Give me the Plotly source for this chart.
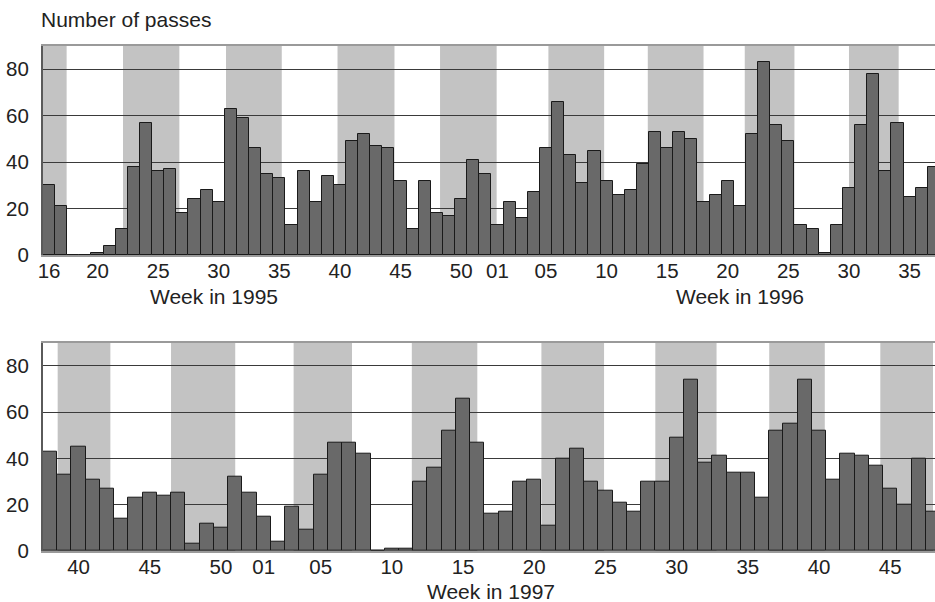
import plotly.graph_objects as go

# ---------------- data ----------------
# Top panel: 1995 week 16 .. 1996 week 37
top_weeks_1995 = list(range(16, 53))
top_values_1995 = [30, 21, 0, 0, 1, 4, 11, 38, 57, 36, 37, 18, 24, 28, 23, 63, 59, 46, 35, 33,
                   13, 36, 23, 34, 30, 49, 52, 47, 46, 32, 11, 32, 18, 17, 24, 41, 35]
top_weeks_1996 = list(range(1, 38))
top_values_1996 = [13, 23, 16, 27, 46, 66, 43, 31, 45, 32, 26, 28, 39, 53, 46, 53, 50, 23, 26, 32,
                   21, 52, 83, 56, 49, 13, 11, 1, 13, 29, 56, 78, 36, 57, 25, 29, 38]

# Bottom panel: 1996 week 38 .. 1997 week 48
bottom_weeks_1996 = list(range(38, 53))
bottom_values_1996 = [43, 33, 45, 31, 27, 14, 23, 25, 24, 25, 3, 12, 10, 32, 25]
bottom_weeks_1997 = list(range(1, 49))
bottom_values_1997 = [15, 4, 19, 9, 33, 47, 47, 42, 0, 1, 1, 30, 36, 52, 66, 47, 16, 17, 30, 31,
                      11, 40, 44, 30, 26, 21, 17, 30, 30, 49, 74, 38, 41, 34, 34, 23, 52, 55, 74, 52,
                      31, 42, 41, 37, 27, 20, 40, 17]

# Tick labels shown
top_ticks_1995 = [16, 20, 25, 30, 35, 40, 45, 50]
top_ticks_1996 = [1, 5, 10, 15, 20, 25, 30, 35]
bottom_ticks_1996 = [40, 45, 50]
bottom_ticks_1997 = [1, 5, 10, 15, 20, 25, 30, 35, 40, 45]

# Shaded (alternate month) spans, in week-slot units from the first bar
top_month_bands = [(-0.5, 1.45), (6.1, 10.75), (14.6, 19.2), (23.8, 28.5), (32.26, 36.93),
                   (41.2, 45.8), (49.4, 54.0), (57.4, 61.5), (66.0, 70.1)]
bottom_month_bands = [(0.53, 4.23), (8.49, 13.0), (17.1, 21.2), (25.4, 30.0), (34.5, 38.9),
                      (42.5, 46.8), (50.5, 54.4), (58.3, 62.0)]

y_title = "Number of passes"
x_titles = ["Week in 1995", "Week in 1996", "Week in 1997"]

# ---------------- build ----------------
def series(weeks_a, vals_a, weeks_b, vals_b, ticks_a, ticks_b):
    keys = [("a", w) for w in weeks_a] + [("b", w) for w in weeks_b]
    vals = vals_a + vals_b
    idx = list(range(len(keys)))
    tickvals, ticktext = [], []
    for i, (yr, w) in enumerate(keys):
        if (yr == "a" and w in ticks_a) or (yr == "b" and w in ticks_b):
            tickvals.append(i)
            ticktext.append(f"{w:02d}")
    return idx, vals, tickvals, ticktext

tx, ty, ttv, ttt = series(top_weeks_1995, top_values_1995, top_weeks_1996, top_values_1996,
                          top_ticks_1995, top_ticks_1996)
bx, by, btv, btt = series(bottom_weeks_1996, bottom_values_1996, bottom_weeks_1997, bottom_values_1997,
                          bottom_ticks_1996, bottom_ticks_1997)

FONT = "Liberation Sans, Arial, Helvetica, sans-serif"
TXT = "#222222"
BAR = "#696969"
EDGE = "#1a1a1a"
BAND = "#c3c3c3"
TICKSIZE = 20.5
TITLESIZE = 21

fig = go.Figure()
fig.add_trace(go.Bar(x=tx, y=ty, xaxis="x", yaxis="y", marker=dict(color=BAR, line=dict(color=EDGE, width=1)),
                     showlegend=False, hoverinfo="skip"))
fig.add_trace(go.Bar(x=bx, y=by, xaxis="x2", yaxis="y2", marker=dict(color=BAR, line=dict(color=EDGE, width=1)),
                     showlegend=False, hoverinfo="skip"))

W, H = 935, 602
L = 43
def py(pix):
    return 1 - pix / H
def px(pix):
    return (pix - L) / (W - L)

yax = dict(range=[0, 90], tickvals=[0, 20, 40, 60, 80], showgrid=True, gridcolor="#3a3a3a", gridwidth=1,
           zeroline=False, showline=True, linecolor="#5a5a5a", linewidth=2, ticks="",
           ticklabelstandoff=8, tickfont=dict(family=FONT, size=TICKSIZE, color=TXT), automargin=False,
           fixedrange=True)
xax = dict(showgrid=False, zeroline=False, showline=True, linecolor="#9a9a9a", linewidth=2, mirror=True,
           ticks="", tickfont=dict(family=FONT, size=TICKSIZE, color=TXT), automargin=False, fixedrange=True,
           ticklabelstandoff=-4)

shapes = []
for a, b in top_month_bands:
    shapes.append(dict(type="rect", xref="x", yref="y domain", x0=a, x1=b, y0=0, y1=1,
                       fillcolor=BAND, line=dict(width=0), layer="below"))
for a, b in bottom_month_bands:
    shapes.append(dict(type="rect", xref="x2", yref="y2 domain", x0=a, x1=b, y0=0, y1=1,
                       fillcolor=BAND, line=dict(width=0), layer="below"))

ann = [
    dict(text=y_title, xref="paper", yref="paper", x=px(39), y=py(19), xanchor="left", yanchor="middle",
         showarrow=False, font=dict(family=FONT, size=TITLESIZE, color=TXT)),
    dict(text=x_titles[0], xref="paper", yref="paper", x=px(214), y=py(296), xanchor="center", yanchor="middle",
         showarrow=False, font=dict(family=FONT, size=TITLESIZE, color=TXT)),
    dict(text=x_titles[1], xref="paper", yref="paper", x=px(740), y=py(296), xanchor="center", yanchor="middle",
         showarrow=False, font=dict(family=FONT, size=TITLESIZE, color=TXT)),
    dict(text=x_titles[2], xref="paper", yref="paper", x=px(491), y=py(591), xanchor="center", yanchor="middle",
         showarrow=False, font=dict(family=FONT, size=TITLESIZE, color=TXT)),
]

fig.update_layout(
    width=W, height=H, margin=dict(l=L, r=0, t=0, b=0),
    paper_bgcolor="white", plot_bgcolor="white", bargap=0,
    xaxis=dict(xax, domain=[0, 1], anchor="y", range=[-0.5, -0.5 + (W - L) / 12.12],
               tickvals=ttv, ticktext=ttt),
    yaxis=dict(yax, domain=[py(255), py(46)], anchor="x"),
    xaxis2=dict(xax, domain=[0, 1], anchor="y2", range=[-0.5, -0.5 + (W - L) / 14.24],
                tickvals=btv, ticktext=btt),
    yaxis2=dict(yax, domain=[py(551), py(342.7)], anchor="x2"),
    shapes=shapes, annotations=ann,
)

fig.write_html("out.html")
